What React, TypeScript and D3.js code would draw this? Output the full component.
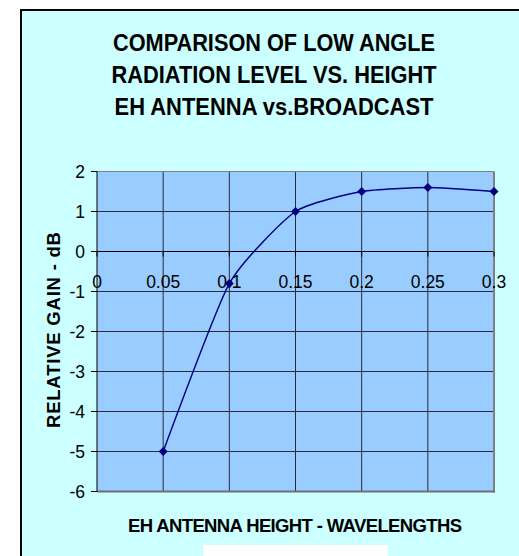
import React from "react";
import * as d3 from "d3";

const heights = [0.05, 0.1, 0.15, 0.2, 0.25, 0.3];
const gains = [-5, -0.8, 1.0, 1.5, 1.6, 1.5];
const xTicks = [0, 0.05, 0.1, 0.15, 0.2, 0.25, 0.3];
const yTicks = [-6, -5, -4, -3, -2, -1, 0, 1, 2];
const titleLines = [
  "COMPARISON OF LOW ANGLE",
  "RADIATION LEVEL VS. HEIGHT",
  "EH ANTENNA vs.BROADCAST",
];
const xTitle = "EH ANTENNA HEIGHT - WAVELENGTHS";
const yTitle = "RELATIVE GAIN - dB";

export default function App() {
  const W = 519, H = 556;
  const pl = 97, pr = 494, pt = 171.5, pb = 491.5;
  const x = d3.scaleLinear().domain([0, 0.3]).range([pl, pr]);
  const y = d3.scaleLinear().domain([-6, 2]).range([pb, pt]);
  const pts: [number, number][] = heights.map((h, i) => [x(h), y(gains[i])]);
  const line = d3.line().curve(d3.curveCardinal.tension(0.45))(pts) || "";
  const font = "Arial, 'Liberation Sans', sans-serif";
  const titleWidths = [322, 325, 319];
  const titleBase = [51, 83, 115];

  return (
    <svg width={W} height={H} style={{ position: "absolute", left: 0, top: 0 }}>
      <rect x={0} y={0} width={W} height={H} fill="#ffffff" />
      <rect x={21} y={10} width={W} height={H} fill="#CCFFFF" stroke="#000" strokeWidth={2} />
      {titleLines.map((t, i) => (
        <text key={i} x={274} y={titleBase[i]} textAnchor="middle" fontFamily={font}
          fontWeight="bold" fontSize={23} textLength={titleWidths[i]} lengthAdjust="spacingAndGlyphs">{t}</text>
      ))}
      <rect x={pl} y={pt} width={pr - pl} height={pb - pt} fill="#99CCFF" />
      {yTicks.filter(v => v > -6 && v < 2).map(v => (
        <line key={"hy" + v} x1={pl} x2={pr} y1={y(v)} y2={y(v)} stroke={v === 0 ? "#000" : "#2a2a3a"} strokeWidth={1} />
      ))}
      {xTicks.filter(v => v > 0 && v < 0.3).map(v => (
        <line key={"vx" + v} x1={x(v)} x2={x(v)} y1={pt} y2={pb} stroke="#2a2a3a" strokeWidth={1} />
      ))}
      <line x1={pl} x2={pr} y1={pt} y2={pt} stroke="#808080" strokeWidth={1} />
      <line x1={pr} x2={pr} y1={pt} y2={pb + 1} stroke="#808080" strokeWidth={2} />
      <line x1={pl} x2={pr + 1} y1={pb} y2={pb} stroke="#707070" strokeWidth={2} />
      <line x1={pl} x2={pl} y1={pt} y2={pb} stroke="#000" strokeWidth={1} />
      {yTicks.map(v => (
        <g key={"yt" + v}>
          <line x1={pl - 6} x2={pl} y1={y(v)} y2={y(v)} stroke="#000" />
          <text x={85} y={y(v)} dy="0.36em" textAnchor="end" fontFamily={font} fontSize={17.5}>{v}</text>
        </g>
      ))}
      {xTicks.map(v => (
        <g key={"xt" + v}>
          <line x1={x(v)} x2={x(v)} y1={y(0)} y2={y(0) + 5} stroke="#000" />
          <text x={x(v)} y={287.5} textAnchor="middle" fontFamily={font} fontSize={17.5}>{v}</text>
        </g>
      ))}
      <path d={line} fill="none" stroke="#000080" strokeWidth={1.5} />
      {pts.map((p, i) => (
        <path key={"m" + i} d={`M${p[0]},${p[1] - 4.5}L${p[0] + 4.5},${p[1]}L${p[0]},${p[1] + 4.5}L${p[0] - 4.5},${p[1]}Z`} fill="#000080" />
      ))}
      <text x={295} y={532} textAnchor="middle" fontFamily={font} fontWeight="bold" fontSize={18.5}
        textLength={334} lengthAdjust="spacing">{xTitle}</text>
      <text transform="translate(60,330) rotate(-90)" textAnchor="middle" fontFamily={font} fontWeight="bold"
        fontSize={18.5} textLength={196} lengthAdjust="spacing">{yTitle}</text>
      <rect x={203} y={545} width={185} height={20} fill="#ffffff" />
    </svg>
  );
}
